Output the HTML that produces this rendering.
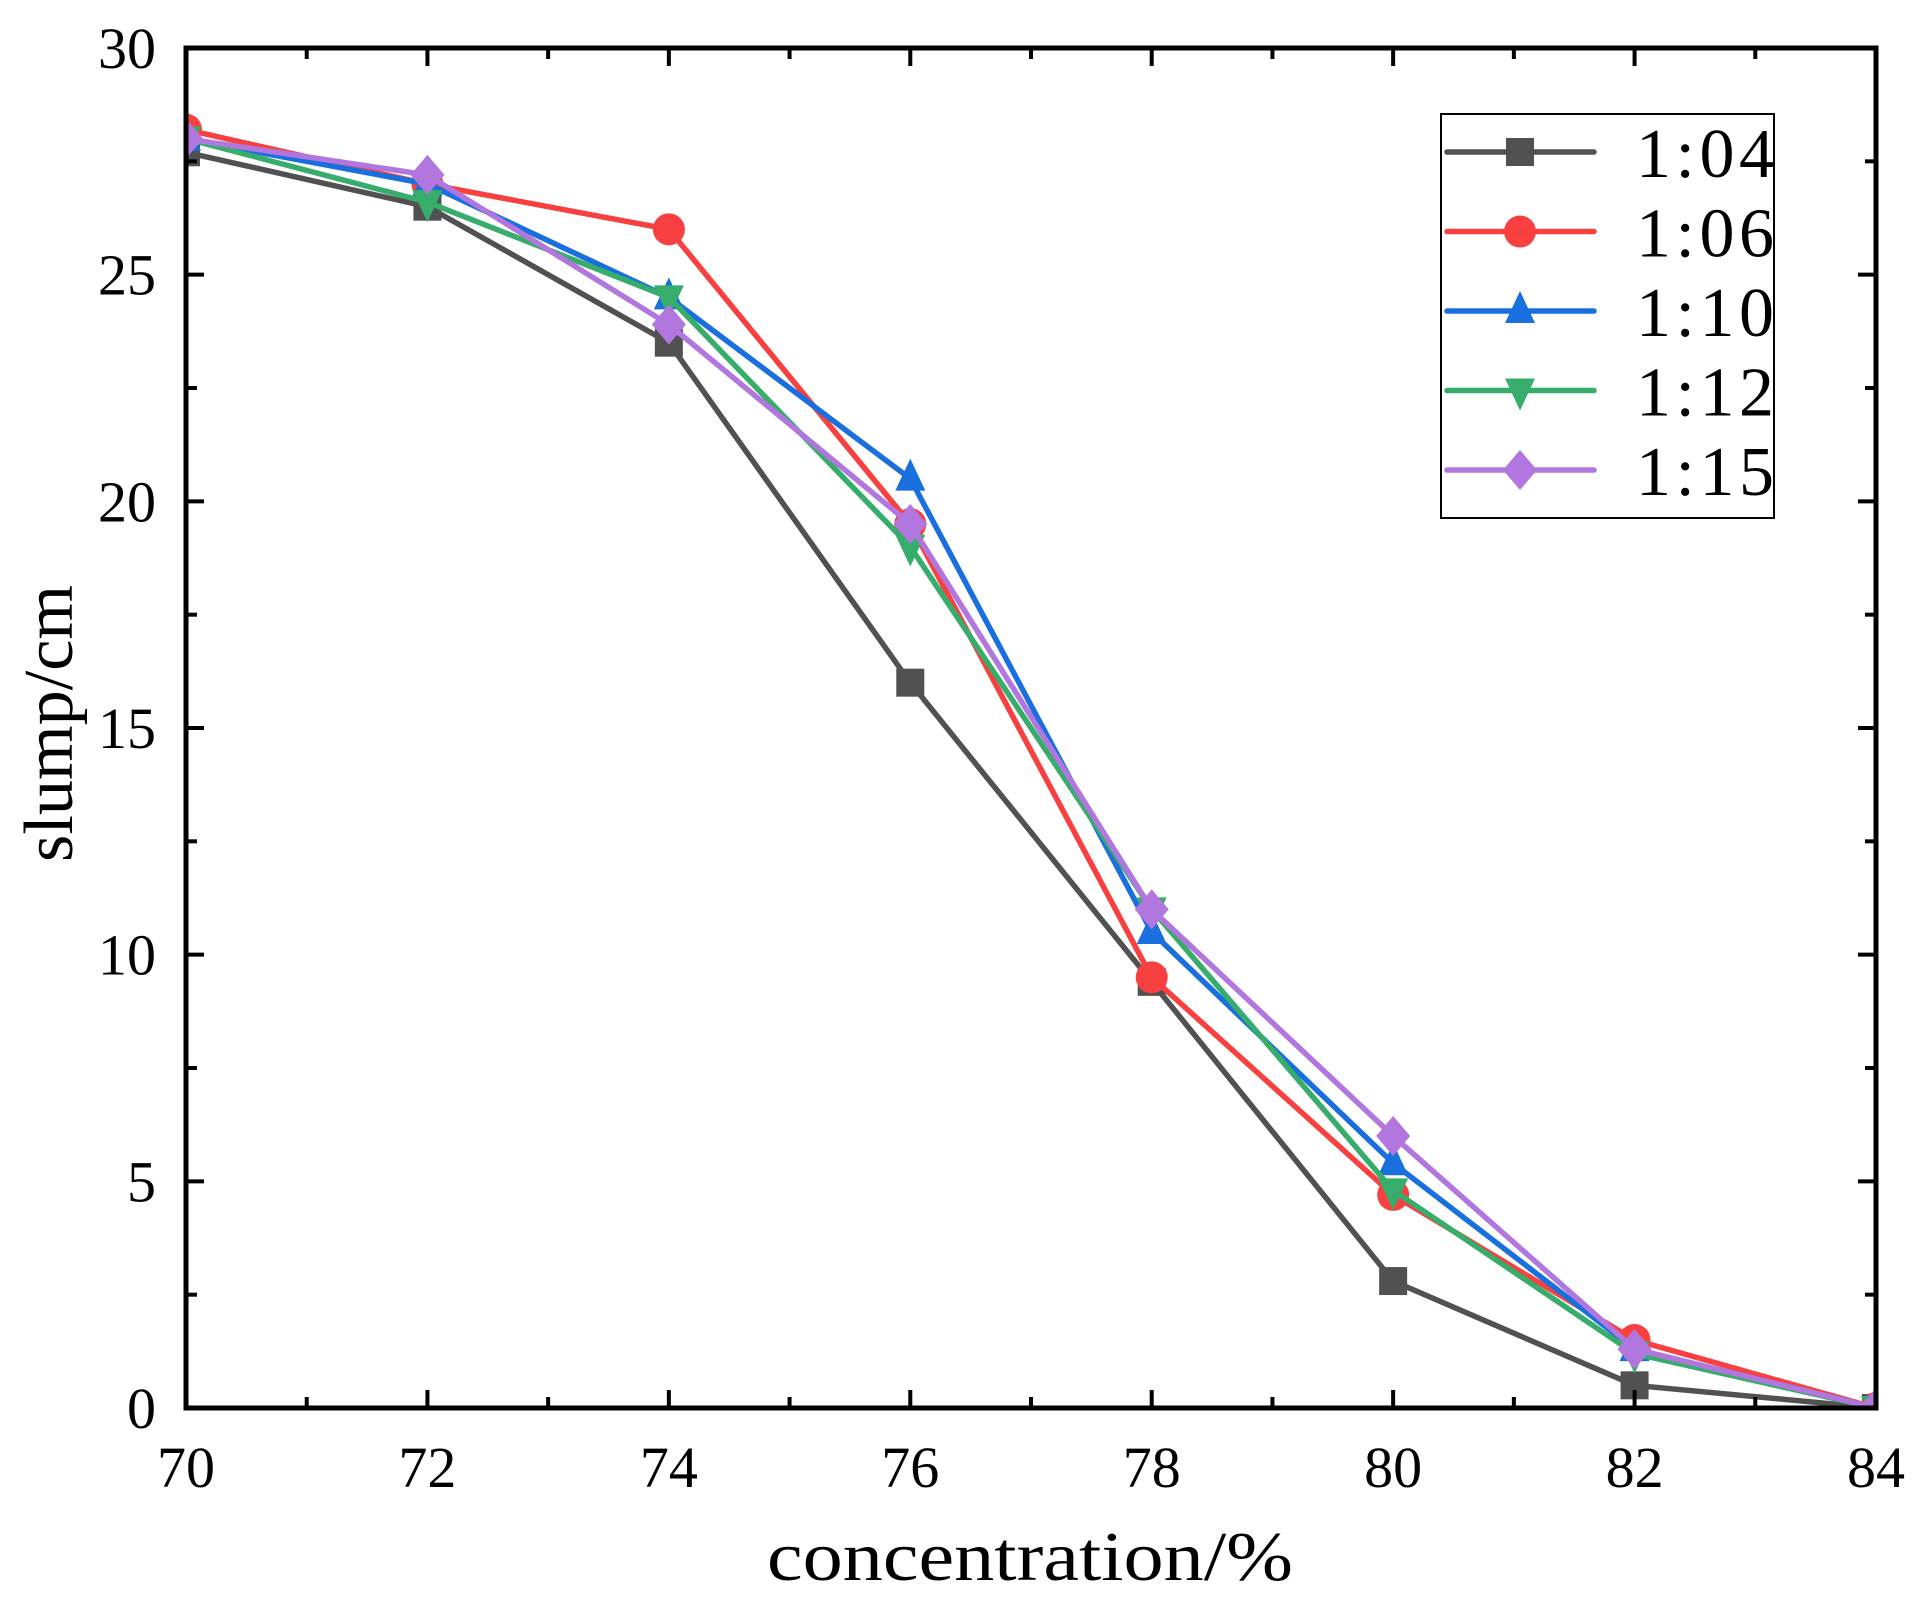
<!DOCTYPE html>
<html><head><meta charset="utf-8"><style>
html,body{margin:0;padding:0;background:#fff;}
svg{display:block;}
text{font-family:"Liberation Serif",serif;fill:#000;}
</style></head><body>
<svg id="chart" width="1927" height="1603" viewBox="0 0 1927 1603" xmlns="http://www.w3.org/2000/svg">
<rect x="0" y="0" width="1927" height="1603" fill="#fff"/>
<g id="series"></g>
<g id="axes"></g>
<g id="legend"></g>
</svg>
<script>
const xCategories = [70, 72, 74, 76, 78, 80, 82, 84];
const s104 = [27.7, 26.5, 23.5, 16.0, 9.4, 2.8, 0.5, 0.0];
const s106 = [28.2, 27.0, 26.0, 19.5, 9.5, 4.7, 1.5, 0.0];
const s110 = [28.0, 27.0, 24.5, 20.5, 10.5, 5.4, 1.3, 0.0];
const s112 = [28.0, 26.6, 24.5, 19.0, 11.0, 4.8, 1.2, 0.0];
const s115 = [28.0, 27.2, 23.9, 19.5, 11.0, 6.0, 1.3, 0.0];
const seriesNames = ["1:04", "1:06", "1:10", "1:12", "1:15"];
const xTicks = [70, 72, 74, 76, 78, 80, 82, 84];
const yTicks = [0, 5, 10, 15, 20, 25, 30];

const NS = "http://www.w3.org/2000/svg";
const L = 186, R = 1876, T = 48, B = 1408;
const xMin = 70, xMax = 84, yMin = 0, yMax = 30;
function xs(v){ return L + (v - xMin) / (xMax - xMin) * (R - L); }
function ys(v){ return B - (v - yMin) / (yMax - yMin) * (B - T); }
function mk(tag, attrs, parent){
  const e = document.createElementNS(NS, tag);
  for (const k in attrs) e.setAttribute(k, attrs[k]);
  parent.appendChild(e);
  return e;
}
const colors = ["#515151", "#F84040", "#1A6FDF", "#37AD6B", "#B177DE"];
const shapes = ["square", "circle", "tri-up", "tri-down", "diamond"];
const allSeries = [s104, s106, s110, s112, s115];

function marker(shape, cx, cy, color, parent){
  let e;
  if (shape === "square") e = mk("rect", {x: cx-14, y: cy-14, width: 28, height: 28, fill: color}, parent);
  else if (shape === "circle") e = mk("circle", {cx: cx, cy: cy, r: 16, fill: color}, parent);
  else if (shape === "tri-up") e = mk("polygon", {points: `${cx},${cy-20} ${cx-15},${cy+12} ${cx+15},${cy+12}`, fill: color}, parent);
  else if (shape === "tri-down") e = mk("polygon", {points: `${cx},${cy+20} ${cx-15},${cy-12} ${cx+15},${cy-12}`, fill: color}, parent);
  else e = mk("polygon", {points: `${cx},${cy-20} ${cx+17},${cy} ${cx},${cy+20} ${cx-17},${cy}`, fill: color}, parent);
  return e;
}

const gS = document.getElementById("series");
allSeries.forEach((vals, i) => {
  const g = mk("g", {}, gS);
  
  
  const pts = vals.map((v, j) => xs(xCategories[j]) + "," + ys(v)).join(" ");
  const pl = mk("polyline", {points: pts, fill: "none", stroke: colors[i], "stroke-width": 5.5, "stroke-linejoin": "round"}, g);
  
  
  vals.forEach((v, j) => {
    const m = marker(shapes[i], xs(xCategories[j]), ys(v), colors[i], g);
    
    
  });
});

const defs = mk("defs", {}, document.getElementById("chart"));
const cp = mk("clipPath", {id: "plotclip"}, defs);
mk("rect", {x: L, y: T, width: R-L, height: B-T}, cp);
gS.setAttribute("clip-path", "url(#plotclip)");

const gA = document.getElementById("axes");
const frame = mk("rect", {x: L, y: T, width: R-L, height: B-T, fill: "none", stroke: "#000", "stroke-width": 5}, gA);


for (let v = xMin; v <= xMax; v += 1) {
  const major = (v % 2 === 0);
  const len = major ? 18 : 11;
  const x = xs(v);
  mk("line", {x1: x, y1: B, x2: x, y2: B-len, stroke: "#000", "stroke-width": 4}, gA);
  mk("line", {x1: x, y1: T, x2: x, y2: T+len, stroke: "#000", "stroke-width": 4}, gA);
}
xTicks.forEach(v => {
  const t = mk("text", {x: xs(v), y: 1487, "font-size": 58, "text-anchor": "middle"}, gA);
  t.textContent = v;
  
  
});
for (let v = yMin; v <= yMax; v += 2.5) {
  const major = (v % 5 === 0);
  const len = major ? 18 : 11;
  const y = ys(v);
  mk("line", {x1: L, y1: y, x2: L+len, y2: y, stroke: "#000", "stroke-width": 4}, gA);
  mk("line", {x1: R, y1: y, x2: R-len, y2: y, stroke: "#000", "stroke-width": 4}, gA);
}
yTicks.forEach(v => {
  const t = mk("text", {x: 156, y: ys(v) + 20, "font-size": 58, "text-anchor": "end"}, gA);
  t.textContent = v;
  
  
});
const xt = mk("text", {x: 767, y: 1580, "font-size": 70, textLength: 526, lengthAdjust: "spacingAndGlyphs"}, gA);
xt.textContent = "concentration/%";


const yt = mk("text", {x: 0, y: 0, "font-size": 70, textLength: 277, lengthAdjust: "spacingAndGlyphs", transform: "translate(72,862) rotate(-90)"}, gA);
yt.textContent = "slump/cm";



const gL = document.getElementById("legend");


mk("rect", {x: 1441, y: 114, width: 333, height: 404, fill: "#fff", stroke: "#000", "stroke-width": 2}, gL);
seriesNames.forEach((n, i) => {
  const y = 152 + i * 79.5;
  const g = mk("g", {}, gL);
  
  
  mk("line", {x1: 1447, y1: y, x2: 1594, y2: y, stroke: colors[i], "stroke-width": 5.5, "stroke-linecap": "round"}, g);
  marker(shapes[i], 1520, y, colors[i], g);
  const t = mk("text", {x: 1636, y: y + 25, "font-size": 70, textLength: 138, lengthAdjust: "spacing"}, g);
  t.textContent = n;
});
</script>
</body></html>
